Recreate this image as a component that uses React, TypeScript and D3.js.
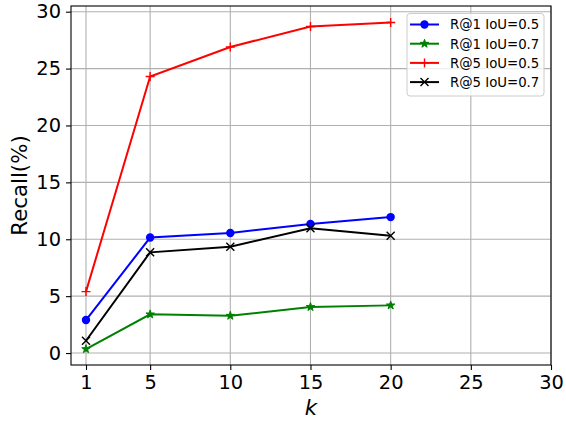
import { useEffect, useRef } from "react";
import * as d3 from "d3";

const kValues = [1, 5, 10, 15, 20];
const r1IoU05 = [2.9, 10.15, 10.55, 11.35, 11.95];
const r1IoU07 = [0.35, 3.4, 3.28, 4.05, 4.19];
const r5IoU05 = [5.4, 24.3, 26.9, 28.7, 29.05];
const r5IoU07 = [1.08, 8.85, 9.35, 10.96, 10.3];
const xTicks = [1, 5, 10, 15, 20, 25, 30];
const yTicks = [0, 5, 10, 15, 20, 25, 30];

const seriesNames = ["R@1 IoU=0.5", "R@1 IoU=0.7", "R@5 IoU=0.5", "R@5 IoU=0.7"];
const seriesColors = ["#0000ff", "#008000", "#ff0000", "#000000"];
const seriesMarkers = ["circle", "star", "plus", "x"];

const W = 566;
const H = 421;
const M = { left: 71, right: 551, top: 6, bottom: 365 };
const FONT = "DejaVu Sans, sans-serif";

function drawMarker(g: any, kind: string, x: number, y: number, color: string) {
  if (kind === "circle") {
    g.append("circle").attr("cx", x).attr("cy", y).attr("r", 4.2).attr("fill", color);
  } else if (kind === "star") {
    g.append("path")
      .attr("d", d3.symbol(d3.symbolStar, 22)())
      .attr("transform", `translate(${x},${y})`)
      .attr("fill", color)
      .attr("stroke", color)
      .attr("stroke-width", 1);
  } else if (kind === "plus") {
    g.append("path")
      .attr("d", `M${x - 4.5},${y}H${x + 4.5}M${x},${y - 4.5}V${y + 4.5}`)
      .attr("stroke", color)
      .attr("stroke-width", 1.4);
  } else {
    g.append("path")
      .attr("d", `M${x - 4},${y - 4}L${x + 4},${y + 4}M${x - 4},${y + 4}L${x + 4},${y - 4}`)
      .attr("stroke", color)
      .attr("stroke-width", 1.4);
  }
}

export default function App() {
  const ref = useRef<SVGSVGElement | null>(null);

  useEffect(() => {
    const svg = d3.select(ref.current);
    svg.selectAll("*").remove();

    const x = d3.scaleLinear().domain([0.065, 30]).range([M.left, M.right]);
    const y = d3.scaleLinear().domain([-1.05, 30.5]).range([M.bottom, M.top]);

    const grid = svg.append("g");
    xTicks.forEach((t) => {
      grid
        .append("line")
        .attr("x1", x(t))
        .attr("x2", x(t))
        .attr("y1", M.top)
        .attr("y2", M.bottom)
        .attr("stroke", "#b0b0b0")
        .attr("stroke-width", 1.1);
    });
    yTicks.forEach((t) => {
      grid
        .append("line")
        .attr("x1", M.left)
        .attr("x2", M.right)
        .attr("y1", y(t))
        .attr("y2", y(t))
        .attr("stroke", "#b0b0b0")
        .attr("stroke-width", 1.1);
    });

    const xAxis = svg
      .append("g")
      .attr("transform", `translate(0,${M.bottom})`)
      .call(d3.axisBottom(x).tickValues(xTicks).tickSize(5).tickPadding(5).tickFormat((d) => `${d}`));
    const yAxis = svg
      .append("g")
      .attr("transform", `translate(${M.left},0)`)
      .call(d3.axisLeft(y).tickValues(yTicks).tickSize(5).tickPadding(5).tickFormat((d) => `${d}`));
    [xAxis, yAxis].forEach((a) => {
      a.select(".domain").remove();
      a.selectAll("line").attr("stroke", "#000").attr("stroke-width", 1.1);
      a.selectAll("text").attr("font-family", FONT).attr("font-size", 19.4).attr("fill", "#000");
    });

    svg
      .append("rect")
      .attr("x", M.left)
      .attr("y", M.top)
      .attr("width", M.right - M.left)
      .attr("height", M.bottom - M.top)
      .attr("fill", "none")
      .attr("stroke", "#000")
      .attr("stroke-width", 1.1);

    const all = [r1IoU05, r1IoU07, r5IoU05, r5IoU07];
    const line = d3
      .line<number>()
      .x((_, i) => x(kValues[i]))
      .y((d) => y(d));

    all.forEach((vals, si) => {
      const g = svg.append("g");
      g.append("path")
        .attr("d", line(vals))
        .attr("fill", "none")
        .attr("stroke", seriesColors[si])
        .attr("stroke-width", 2);
      vals.forEach((v, i) => drawMarker(g, seriesMarkers[si], x(kValues[i]), y(v), seriesColors[si]));
    });

    // legend
    const lg = svg.append("g");
    lg.append("rect")
      .attr("x", 407)
      .attr("y", 13.5)
      .attr("width", 137)
      .attr("height", 82.5)
      .attr("rx", 3)
      .attr("fill", "rgba(255,255,255,0.8)")
      .attr("stroke", "#cccccc")
      .attr("stroke-width", 1);
    seriesNames.forEach((name, i) => {
      const ly = 24.5 + i * 19.2;
      lg.append("line")
        .attr("x1", 410)
        .attr("x2", 439)
        .attr("y1", ly)
        .attr("y2", ly)
        .attr("stroke", seriesColors[i])
        .attr("stroke-width", 2);
      drawMarker(lg, seriesMarkers[i], 424.5, ly, seriesColors[i]);
      lg.append("text")
        .attr("x", 450)
        .attr("y", ly + 4.8)
        .attr("font-family", FONT)
        .attr("font-size", 13.3)
        .attr("fill", "#000")
        .text(name);
    });

    svg
      .append("text")
      .attr("transform", `translate(27,${(M.top + M.bottom) / 2}) rotate(-90)`)
      .attr("text-anchor", "middle")
      .attr("font-family", FONT)
      .attr("font-size", 21.3)
      .attr("fill", "#000")
      .text("Recall(%)");
    svg
      .append("text")
      .attr("x", (M.left + M.right) / 2)
      .attr("y", 415)
      .attr("text-anchor", "middle")
      .attr("font-family", FONT)
      .attr("font-style", "italic")
      .attr("font-size", 21.3)
      .attr("fill", "#000")
      .text("k");
  }, []);

  return (
    <svg
      ref={ref}
      width={W}
      height={H}
      style={{ position: "absolute", left: 0, top: 0, background: "#fff" }}
    />
  );
}
